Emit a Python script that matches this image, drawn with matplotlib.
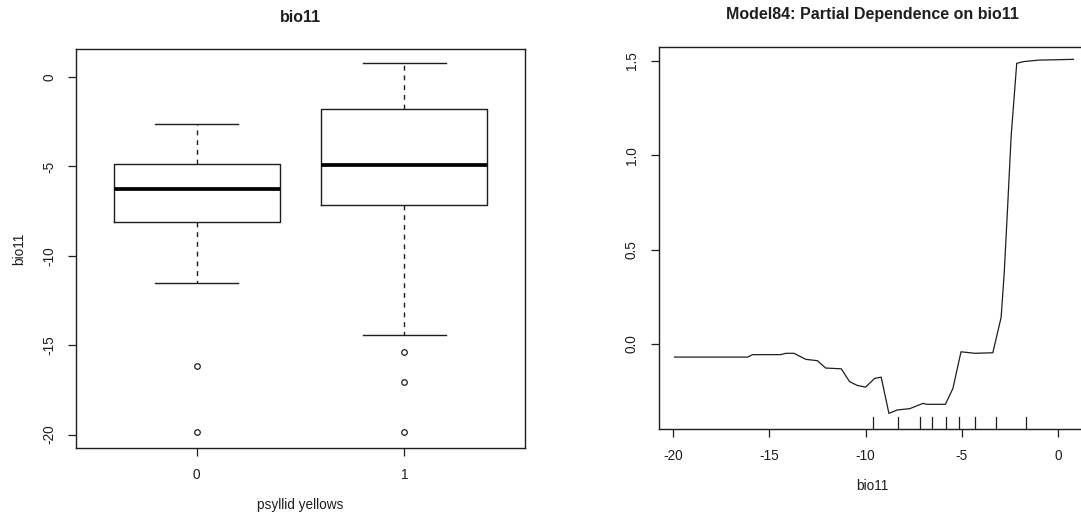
import matplotlib
matplotlib.use("Agg")
import matplotlib.pyplot as plt

plt.rcParams['font.family'] = ['Liberation Sans', 'DejaVu Sans']

# ---- Left panel data: boxplot of bio11 by psyllid yellows ----
groups = ['0', '1']
q1 = [-8.10, -7.15]
med = [-6.27, -4.92]
q3 = [-4.86, -1.81]
whislo = [-11.53, -14.41]
whishi = [-2.61, 0.81]
outliers = [[-16.15, -19.87], [-15.36, -17.04, -19.87]]
box_yticks = [-20, -15, -10, -5, 0]

# ---- Right panel data: partial dependence ----
pd_x = [-19.91, -16.12, -15.86, -14.40, -14.14, -13.71, -13.10, -12.50,
        -12.07, -11.26, -10.83, -10.43, -10.00, -9.53, -9.19, -8.79,
        -8.36, -7.71, -7.02, -6.81, -5.86, -5.47, -5.05, -4.31, -3.40,
        -2.97, -2.81, -2.62, -2.45, -2.16, -1.81, -1.03, 0.78]
pd_y = [-0.069, -0.069, -0.056, -0.056, -0.049, -0.049, -0.081, -0.088,
        -0.127, -0.131, -0.199, -0.219, -0.228, -0.182, -0.175, -0.367,
        -0.349, -0.342, -0.314, -0.319, -0.319, -0.235, -0.041, -0.049, -0.046,
        0.141, 0.374, 0.75, 1.10, 1.486, 1.495, 1.503, 1.507]
rug_x = [-9.62, -8.31, -7.17, -6.53, -5.84, -5.18, -4.30, -3.23, -1.69]
pd_xticks = [-20, -15, -10, -5, 0]
pd_yticks = [0.0, 0.5, 1.0, 1.5]

W, H = 1081, 516
fig = plt.figure(figsize=(W / 100, H / 100), dpi=100)
ink = '#1e1e1e'
tick_fs = 9.8


def px_axes(l, t, r, b):
    return fig.add_axes([l / W, 1 - b / H, (r - l) / W, (b - t) / H])


def style_axes(ax):
    for s in ax.spines.values():
        s.set_color(ink)
        s.set_linewidth(1.0)
    ax.tick_params(direction='out', length=5.5, width=0.9, color=ink,
                   labelcolor=ink, labelsize=tick_fs, pad=9)
    ax.tick_params(axis='y', labelrotation=90)
    for lab in ax.get_yticklabels():
        lab.set_va('center')


# ---- Left: boxplot ----
ax1 = px_axes(76.3, 49.3, 524.7, 447.7)
stats = []
for i in range(len(groups)):
    stats.append(dict(med=med[i], q1=q1[i], q3=q3[i], whislo=whislo[i],
                      whishi=whishi[i], fliers=outliers[i], label=groups[i]))
ax1.bxp(stats, positions=[1, 2], widths=0.8, capwidths=0.4,
        boxprops=dict(color=ink, linewidth=1.0),
        whiskerprops=dict(color=ink, linewidth=1.0, linestyle=(0, (3.5, 3.5))),
        capprops=dict(color=ink, linewidth=1.0),
        medianprops=dict(color='black', linewidth=2.7, solid_capstyle='butt'),
        flierprops=dict(marker='o', markerfacecolor='none', markeredgecolor=ink,
                        markersize=4, markeredgewidth=0.9))
ax1.set_xlim(0.42, 2.58)
ax1.set_ylim(-20.73, 1.55)
ax1.set_xticks([1, 2])
ax1.set_xticklabels(groups)
ax1.set_yticks(box_yticks)
ax1.set_yticklabels([str(v) for v in box_yticks])
style_axes(ax1)

fig.text(300.5 / W, 1 - 17 / H, 'bio11', ha='center', va='center',
         fontsize=11.5, fontweight='bold', color=ink)
fig.text(300.5 / W, 1 - 505 / H, 'psyllid yellows', ha='center', va='center',
         fontsize=tick_fs, color=ink)
fig.text(19 / W, 1 - 248.5 / H, 'bio11', ha='center', va='center',
         rotation=90, fontsize=tick_fs, color=ink)

# ---- Right: partial dependence ----
ax2 = px_axes(658.7, 46.7, 1089.8, 428.5)
ax2.plot(pd_x, pd_y, color=ink, linewidth=0.9)
ax2.set_xlim(-20.73, 1.63)
ax2.set_ylim(-0.447, 1.574)
for rx in rug_x:
    ax2.plot([rx, rx], [0, 0.03], color=ink, linewidth=0.9,
             transform=ax2.get_xaxis_transform())
ax2.set_xticks(pd_xticks)
ax2.set_xticklabels([str(v) for v in pd_xticks])
ax2.set_yticks(pd_yticks)
ax2.set_yticklabels([f'{v:.1f}' for v in pd_yticks])
style_axes(ax2)

fig.text(872.5 / W, 1 - 15 / H, 'Model84: Partial Dependence on bio11',
         ha='center', va='center', fontsize=11.5, fontweight='bold', color=ink)
fig.text(872.3 / W, 1 - 486 / H, 'bio11', ha='center', va='center',
         fontsize=tick_fs, color=ink)

fig.savefig('out.png', dpi=100)
